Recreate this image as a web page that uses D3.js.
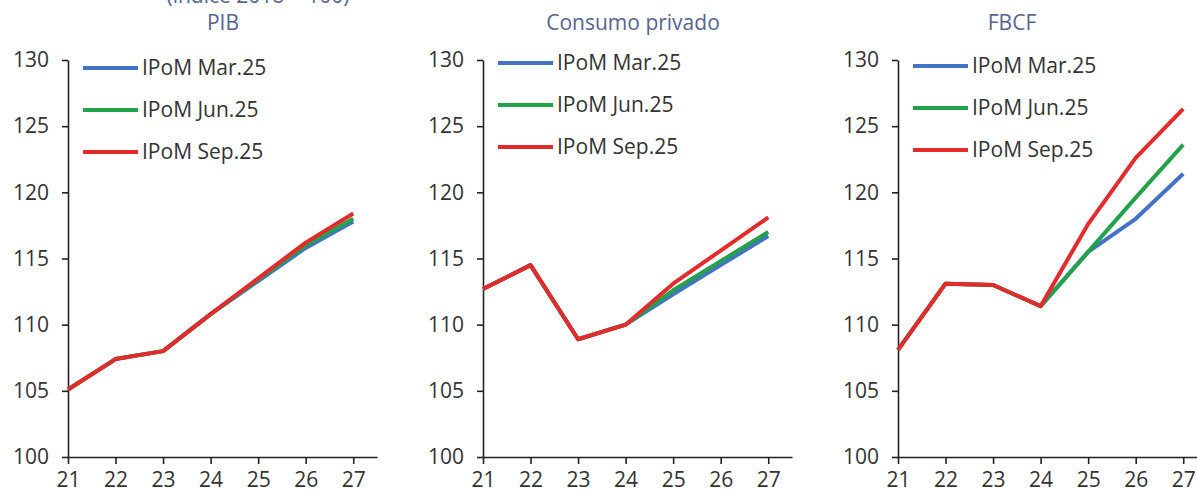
<!DOCTYPE html>
<html>
<meta charset="utf-8">
<script src="https://d3js.org/d3.v7.min.js"></script>
<style>
  body { margin: 0; background: #fff; }
  text { font-family: "Open Sans", "Noto Sans", sans-serif; }
</style>
<body>
<div id="my_dataviz"></div>
<script>
// data
var years = [21, 22, 23, 24, 25, 26, 27];
var yTicks = [100, 105, 110, 115, 120, 125, 130];
var seriesNames = ["IPoM Mar.25", "IPoM Jun.25", "IPoM Sep.25"];
var panelTitles = ["PIB", "Consumo privado", "FBCF"];

var pibMar = [105.1, 107.4, 108.0, 110.8, 113.3, 115.8, 117.8];
var pibJun = [105.1, 107.4, 108.0, 110.8, 113.4, 116.0, 118.0];
var pibSep = [105.1, 107.4, 108.0, 110.8, 113.5, 116.2, 118.4];

var consMar = [112.7, 114.5, 108.9, 110.0, 112.3, 114.5, 116.7];
var consJun = [112.7, 114.5, 108.9, 110.0, 112.6, 114.8, 117.0];
var consSep = [112.7, 114.5, 108.9, 110.0, 113.1, 115.6, 118.1];

var fbcfMar = [108.1, 113.1, 113.0, 111.4, 115.5, 118.0, 121.4];
var fbcfJun = [108.1, 113.1, 113.0, 111.4, 115.5, 119.6, 123.6];
var fbcfSep = [108.1, 113.1, 113.0, 111.4, 117.6, 122.6, 126.3];

var panelData = [
  [pibMar, pibJun, pibSep],
  [consMar, consJun, consSep],
  [fbcfMar, fbcfJun, fbcfSep]
];

var colors = ["#4472c4", "#22a24a", "#e42a2a"];

// layout
var W = 1197, H = 489;
var panelLeft = [68, 483, 898];
var panelWidth = 309;
var plotTop = 60, plotBottom = 457;
var titleX = [223, 633, 1012];
var legendTop = [68, 63, 66];
var legendGap = 42;
var fs = "21px";

var svg = d3.select("#my_dataviz")
  .append("svg")
    .attr("width", W)
    .attr("height", H);

// subtitle, cut off at the top edge as in the source
svg.append("text")
  .attr("x", 258)
  .attr("y", 3)
  .attr("text-anchor", "middle")
  .style("font-size", fs)
  .style("fill", "#55658f")
  .text("(índice 2018 = 100)");

panelData.forEach(function(series, p) {
  var g = svg.append("g")
    .attr("transform", "translate(" + panelLeft[p] + ",0)");

  var x = d3.scaleLinear()
    .domain([21, 27.5])
    .range([0, panelWidth]);

  var y = d3.scaleLinear()
    .domain([100, 130])
    .range([plotBottom, plotTop]);

  // y axis
  var ya = g.append("g")
    .call(d3.axisLeft(y).tickValues(yTicks).tickSize(6).tickSizeOuter(0).tickPadding(13));
  // x axis
  var xa = g.append("g")
    .attr("transform", "translate(0," + plotBottom + ")")
    .call(d3.axisBottom(x).tickValues(years).tickSize(7).tickSizeOuter(0).tickPadding(8)
      .tickFormat(d3.format("d")));

  [ya, xa].forEach(function(a) {
    a.selectAll("path, line").attr("stroke", "#222").attr("stroke-width", 1.6);
    a.selectAll("text")
      .style("font-size", fs)
      .style("font-family", "'Open Sans', 'Noto Sans', sans-serif")
      .attr("fill", "#333");
  });

  // title
  svg.append("text")
    .attr("x", titleX[p])
    .attr("y", 30)
    .attr("text-anchor", "middle")
    .style("font-size", fs)
    .style("fill", "#55658f")
    .text(panelTitles[p]);

  // lines
  var line = d3.line()
    .x(function(d, i) { return x(years[i]); })
    .y(function(d) { return y(d); });

  series.forEach(function(vals, s) {
    g.append("path")
      .datum(vals)
      .attr("fill", "none")
      .attr("stroke", colors[s])
      .attr("stroke-width", 4)
      .attr("stroke-linejoin", "round")
      .attr("d", line);
  });

  // legend
  seriesNames.forEach(function(name, s) {
    var ly = legendTop[p] + s * legendGap;
    g.append("line")
      .attr("x1", 15).attr("x2", 70)
      .attr("y1", ly).attr("y2", ly)
      .attr("stroke", colors[s])
      .attr("stroke-width", 4);
    g.append("text")
      .attr("x", 74)
      .attr("y", ly)
      .attr("dy", "0.35em")
      .style("font-size", fs)
      .style("fill", "#333")
      .text(name);
  });
});
</script>
</body>
</html>
